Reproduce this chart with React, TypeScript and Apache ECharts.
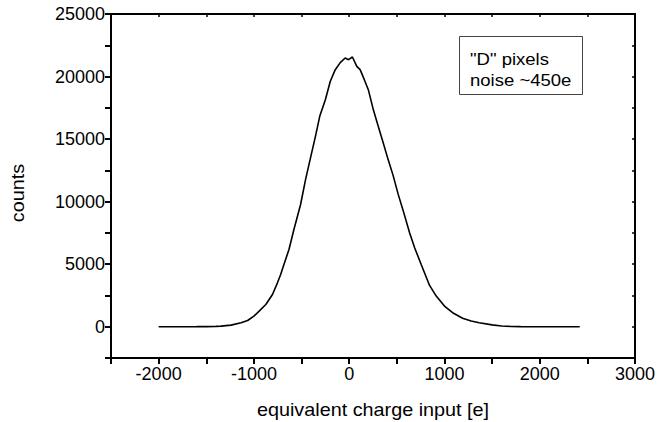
import React, { useEffect, useRef } from "react";
import * as echarts from "echarts";

const xValues = [-2000, -1800, -1600, -1500, -1400, -1344, -1240, -1135, -1066, -1000, -945, -875, -805, -753, -719, -684, -632, -580, -510, -458, -406, -354, -309, -250, -198, -146, -94, -42, -7, 34, 80, 115, 159, 201, 253, 305, 357, 409, 461, 514, 566, 635, 688, 757, 844, 914, 1000, 1086, 1191, 1280, 1365, 1500, 1600, 1700, 1800, 2000, 2200, 2420];
const counts = [0, 0, 5, 10, 25, 50, 130, 320, 500, 850, 1250, 1780, 2580, 3510, 4180, 5000, 6170, 7770, 9770, 11760, 13500, 15220, 16820, 18150, 19620, 20550, 21110, 21480, 21350, 21560, 20810, 20550, 19750, 18950, 17360, 16020, 14700, 13360, 12100, 10600, 9300, 7500, 6300, 4950, 3300, 2450, 1650, 1120, 680, 460, 320, 150, 60, 20, 5, 0, 0, 0];
const legendLines = ['"D" pixels', "noise ~450e"];
const xTitle = "equivalent charge input [e]";
const yTitle = "counts";

const FONT = "'Liberation Sans', Arial, sans-serif";

export default function App() {
  const ref = useRef<HTMLDivElement>(null);
  useEffect(() => {
    if (!ref.current) return;
    const chart = echarts.init(ref.current, null, { renderer: "svg" });
    const data = xValues.map((x, i) => [x, counts[i]]);
    const axisLine = { show: true, onZero: false, lineStyle: { color: "#000", width: 2 } };
    chart.setOption({
      animation: false,
      backgroundColor: "#fff",
      textStyle: { fontFamily: FONT },
      grid: { left: 111, right: 22, top: 14, bottom: 64 },
      xAxis: [
        {
          type: "value",
          min: -2500,
          max: 3000,
          interval: 500,
          position: "bottom",
          axisLine,
          axisTick: { show: true, inside: false, length: 6, lineStyle: { color: "#000", width: 2 } },
          axisLabel: {
            color: "#000",
            fontSize: 18,
            fontFamily: FONT,
            margin: 7,
            formatter: (v: number) => (v % 1000 === 0 ? String(v) : ""),
          },
          splitLine: { show: false },
        },
        {
          type: "value",
          min: -2500,
          max: 3000,
          interval: 500,
          position: "top",
          axisLine,
          axisTick: { show: true, inside: true, length: 3, lineStyle: { color: "#000", width: 1.5 } },
          axisLabel: { show: false },
          splitLine: { show: false },
        },
      ],
      yAxis: [
        {
          type: "value",
          min: -2500,
          max: 25000,
          interval: 2500,
          position: "left",
          axisLine,
          axisTick: { show: true, inside: false, length: 6, lineStyle: { color: "#000", width: 2 } },
          axisLabel: {
            color: "#000",
            fontSize: 18,
            fontFamily: FONT,
            margin: 6,
            formatter: (v: number) => (v >= 0 && v % 5000 === 0 ? String(v) : ""),
          },
          splitLine: { show: false },
        },
        {
          type: "value",
          min: -2500,
          max: 25000,
          interval: 2500,
          position: "right",
          axisLine,
          axisTick: { show: true, inside: true, length: 3, lineStyle: { color: "#000", width: 1.5 } },
          axisLabel: { show: false },
          splitLine: { show: false },
        },
      ],
      series: [
        {
          type: "line",
          data,
          xAxisIndex: 0,
          yAxisIndex: 0,
          showSymbol: false,
          symbol: "none",
          lineStyle: { color: "#000", width: 1.6 },
        },
      ],
      graphic: [
        {
          type: "rect",
          shape: { x: 459.5, y: 36.5, width: 123, height: 58 },
          style: { fill: "#fff", stroke: "#444", lineWidth: 1 },
          z: 10,
        },
        {
          type: "text",
          x: 470,
          y: 59,
          scaleX: 1.09,
          style: { text: legendLines[0], fill: "#000", fontSize: 17, fontFamily: FONT, verticalAlign: "middle" },
          z: 11,
        },
        {
          type: "text",
          x: 470,
          y: 80,
          scaleX: 1.09,
          style: { text: legendLines[1], fill: "#000", fontSize: 17, fontFamily: FONT, verticalAlign: "middle" },
          z: 11,
        },
        {
          type: "text",
          x: 373,
          y: 410,
          scaleX: 1.1,
          style: { text: xTitle, fill: "#000", fontSize: 18, fontFamily: FONT, align: "center", verticalAlign: "middle" },
        },
        {
          type: "text",
          x: 18,
          y: 193,
          rotation: Math.PI / 2,
          scaleX: 1.1,
          style: { text: yTitle, fill: "#000", fontSize: 18, fontFamily: FONT, align: "center", verticalAlign: "middle" },
        },
      ],
    });
    return () => chart.dispose();
  }, []);
  return <div ref={ref} style={{ width: 658, height: 422, position: "absolute", left: 0, top: 0 }} />;
}
